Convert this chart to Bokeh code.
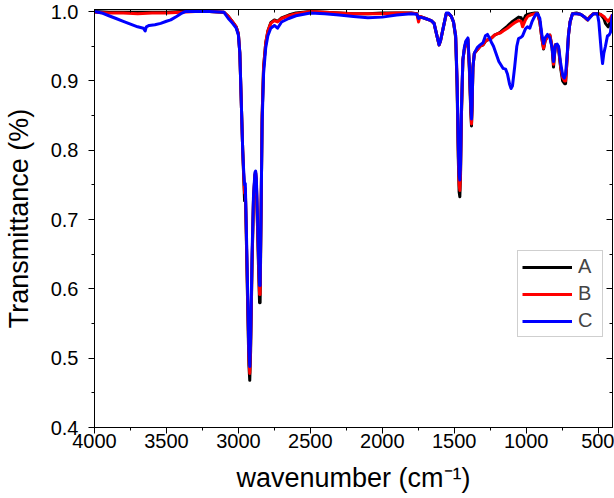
from bokeh.plotting import figure
from bokeh.models import (Range1d, LinearAxis, FixedTicker, Legend, LegendItem,
                          CustomJSTickFormatter, CustomLabelingPolicy)
from bokeh.embed import file_html
from bokeh.resources import INLINE

# ---------------- data ----------------
wn_ab = [4000, 3900, 3800, 3700, 3600, 3500, 3400, 3300, 3200, 3100, 3070, 3040, 3015, 3000,
         2990, 2980, 2970, 2962, 2957, 2954, 2950, 2945, 2935, 2927, 2921, 2915, 2905, 2895,
         2885, 2880, 2875, 2868, 2860, 2853, 2849, 2843, 2835, 2825, 2810, 2795, 2775, 2750,
         2728, 2700, 2650, 2600, 2500, 2400, 2300, 2200, 2100, 2000, 1900, 1800, 1760, 1748,
         1738, 1700, 1660, 1640, 1620, 1605, 1595, 1575, 1555, 1540, 1520, 1505, 1490, 1480,
         1472, 1466, 1461, 1456, 1450, 1440, 1430, 1420, 1405, 1395, 1385, 1380, 1376, 1370,
         1360, 1340, 1320, 1300, 1280, 1260, 1240, 1220, 1200, 1180, 1160, 1130, 1100, 1080,
         1053, 1035, 1025, 1015, 1005, 990, 970, 940, 921, 905, 890, 879, 868, 852, 835, 820,
         810, 800, 796, 785, 775, 760, 747, 733, 726, 716, 706, 695, 678, 650, 622, 600, 574,
         555, 532, 500, 483, 460, 449, 430, 415, 400]

t_b = [0.999, 0.998, 0.998, 0.997, 0.998, 0.998, 0.999, 1.000, 1.000, 0.999, 0.993, 0.985, 0.978, 0.968,
       0.940, 0.870, 0.800, 0.760, 0.738, 0.745, 0.730, 0.680, 0.580, 0.500, 0.478, 0.520, 0.640, 0.730,
       0.765, 0.768, 0.755, 0.700, 0.640, 0.592, 0.592, 0.700, 0.850, 0.920, 0.955, 0.972, 0.983, 0.987,
       0.985, 0.990, 0.994, 0.997, 1.000, 0.999, 0.998, 0.997, 0.997, 0.997, 0.998, 0.998, 0.997, 0.985,
       0.993, 0.990, 0.987, 0.983, 0.965, 0.952, 0.958, 0.978, 0.997, 0.997, 0.993, 0.985, 0.965, 0.900,
       0.800, 0.750, 0.742, 0.770, 0.850, 0.930, 0.945, 0.955, 0.960, 0.920, 0.860, 0.838, 0.860, 0.920,
       0.940, 0.945, 0.950, 0.952, 0.958, 0.960, 0.962, 0.966, 0.968, 0.969, 0.972, 0.976, 0.981, 0.984,
       0.987, 0.986, 0.978, 0.983, 0.988, 0.993, 0.995, 0.997, 0.997, 0.985, 0.960, 0.947, 0.958, 0.964,
       0.966, 0.950, 0.924, 0.945, 0.952, 0.952, 0.948, 0.920, 0.905, 0.900, 0.900, 0.930, 0.966, 0.985,
       0.997, 0.997, 0.996, 0.993, 0.988, 0.993, 0.997, 0.997, 0.996, 0.993, 0.990, 0.986, 0.990, 0.996]

t_a = [1.000, 0.999, 0.999, 0.999, 0.999, 0.999, 1.000, 1.000, 1.000, 0.999, 0.993, 0.985, 0.978, 0.968,
       0.940, 0.870, 0.800, 0.755, 0.727, 0.745, 0.725, 0.675, 0.570, 0.490, 0.468, 0.510, 0.635, 0.728,
       0.764, 0.767, 0.752, 0.695, 0.630, 0.580, 0.580, 0.695, 0.850, 0.920, 0.955, 0.972, 0.984, 0.988,
       0.986, 0.991, 0.995, 0.998, 1.000, 0.999, 0.998, 0.997, 0.997, 0.998, 0.998, 0.998, 0.997, 0.990,
       0.993, 0.990, 0.987, 0.983, 0.965, 0.952, 0.958, 0.978, 0.997, 0.997, 0.993, 0.985, 0.962, 0.890,
       0.790, 0.740, 0.733, 0.765, 0.850, 0.930, 0.945, 0.955, 0.960, 0.918, 0.855, 0.835, 0.858, 0.920,
       0.940, 0.945, 0.950, 0.952, 0.958, 0.960, 0.962, 0.966, 0.968, 0.970, 0.974, 0.979, 0.985, 0.988,
       0.992, 0.991, 0.985, 0.989, 0.994, 0.996, 0.997, 0.998, 0.998, 0.985, 0.960, 0.946, 0.958, 0.964,
       0.966, 0.948, 0.920, 0.945, 0.952, 0.952, 0.947, 0.918, 0.900, 0.896, 0.896, 0.930, 0.966, 0.985,
       0.997, 0.998, 0.996, 0.993, 0.988, 0.993, 0.997, 0.997, 0.996, 0.990, 0.983, 0.978, 0.985, 0.994]

wn_c = [4000, 3950, 3900, 3850, 3800, 3750, 3700, 3660, 3648, 3640, 3620, 3580, 3540, 3500, 3470,
        3430, 3400, 3370, 3300, 3200, 3100, 3070, 3040, 3015, 3000, 2990, 2980, 2970, 2962, 2957,
        2952, 2945, 2935, 2927, 2921, 2915, 2905, 2895, 2885, 2880, 2875, 2868, 2860, 2853, 2849,
        2843, 2835, 2825, 2810, 2795, 2775, 2750, 2728, 2700, 2650, 2600, 2500, 2400, 2300, 2200,
        2100, 2000, 1900, 1800, 1760, 1748, 1738, 1700, 1660, 1640, 1620, 1605, 1595, 1575, 1555,
        1540, 1520, 1505, 1490, 1480, 1472, 1466, 1461, 1456, 1450, 1440, 1430, 1420, 1405, 1395,
        1385, 1380, 1376, 1370, 1360, 1340, 1320, 1300, 1283, 1269, 1255, 1240, 1227, 1210, 1190,
        1178, 1160, 1143, 1130, 1115, 1105, 1095, 1080, 1065, 1053, 1035, 1025, 1005, 991, 975,
        960, 949, 930, 921, 905, 890, 879, 868, 852, 835, 820, 810, 800, 796, 785, 775, 760, 745,
        735, 726, 716, 706, 695, 678, 650, 622, 600, 570, 550, 532, 505, 495, 485, 477, 469, 460,
        449, 435, 425, 414, 405, 400]

t_c = [1.000, 0.998, 0.994, 0.990, 0.986, 0.982, 0.978, 0.976, 0.972, 0.978, 0.980, 0.981, 0.983, 0.986, 0.988,
       0.993, 0.997, 1.000, 1.000, 1.000, 0.999, 0.990, 0.983, 0.976, 0.966, 0.940, 0.870, 0.800, 0.765, 0.750,
       0.752, 0.690, 0.590, 0.510, 0.488, 0.530, 0.650, 0.735, 0.768, 0.770, 0.758, 0.710, 0.650, 0.605, 0.605,
       0.700, 0.840, 0.910, 0.948, 0.965, 0.976, 0.980, 0.976, 0.985, 0.990, 0.994, 0.998, 0.997, 0.995, 0.993,
       0.991, 0.992, 0.995, 0.997, 0.996, 0.990, 0.992, 0.990, 0.987, 0.983, 0.965, 0.952, 0.958, 0.978, 0.998,
       0.998, 0.993, 0.985, 0.965, 0.900, 0.810, 0.765, 0.757, 0.780, 0.860, 0.930, 0.948, 0.957, 0.962, 0.925,
       0.865, 0.845, 0.865, 0.920, 0.940, 0.948, 0.952, 0.955, 0.965, 0.967, 0.962, 0.955, 0.950, 0.940, 0.928,
       0.924, 0.918, 0.917, 0.910, 0.895, 0.889, 0.893, 0.920, 0.950, 0.961, 0.963, 0.965, 0.975, 0.978, 0.976,
       0.985, 0.990, 0.997, 0.997, 0.990, 0.965, 0.954, 0.962, 0.967, 0.962, 0.948, 0.928, 0.945, 0.952, 0.953,
       0.950, 0.925, 0.907, 0.904, 0.910, 0.935, 0.966, 0.985, 0.997, 0.997, 0.996, 0.993, 0.988, 0.993, 0.997,
       0.997, 0.985, 0.960, 0.940, 0.925, 0.940, 0.950, 0.965, 0.966, 0.970, 0.990, 0.996]

series_names = ["A", "B", "C"]
series_colors = ["#000000", "#ff0000", "#0000ff"]
x_ticks = [4000, 3500, 3000, 2500, 2000, 1500, 1000, 500]
y_ticks = [0.4, 0.5, 0.6, 0.7, 0.8, 0.9, 1.0]

FONT = "Liberation Sans"

p = figure(width=614, height=498, output_backend="svg", toolbar_location=None,
           x_range=Range1d(4000, 400), y_range=Range1d(0.4, 1.003),
           min_border_left=94, min_border_right=2, min_border_top=9, min_border_bottom=71)
p.grid.visible = False
p.outline_line_color = "black"
p.outline_line_width = 1
p.background_fill_color = "white"
p.border_fill_color = "white"

xt = FixedTicker(ticks=x_ticks, minor_ticks=[4000 - 250 * i for i in range(15)])
yt = FixedTicker(ticks=y_ticks, minor_ticks=[0.4 + 0.05 * i for i in range(13)])

xa = p.xaxis[0]
xa.ticker = xt
ya = p.yaxis[0]
ya.ticker = yt
ya.formatter = CustomJSTickFormatter(code="return tick.toFixed(1);")

for ax in (xa, ya):
    ax.axis_line_color = "black"
    ax.major_tick_line_color = "black"
    ax.minor_tick_line_color = "black"
    ax.major_tick_out = 6
    ax.major_tick_in = 0
    ax.minor_tick_out = 3
    ax.minor_tick_in = 0
    ax.major_label_text_font = FONT
    ax.major_label_text_font_size = "20px"
    ax.major_label_text_color = "black"
    ax.axis_label_text_font = FONT
    ax.axis_label_text_font_size = "27px"
    ax.axis_label_text_font_style = "normal"
    ax.axis_label_text_color = "black"

xa.axis_label = "wavenumber (cm⁻¹)"
ya.axis_label = "Transmittance (%)"
xa.major_label_standoff = 0
xa.axis_label_standoff = 12
ya.major_label_standoff = 10
ya.axis_label_standoff = 14

no_labels = CustomLabelingPolicy(code="""
try { for (const i of Array.from(indices)) indices.unset(i); } catch (e) {}
return indices;
""")
blank = CustomJSTickFormatter(code="return '';")

top = LinearAxis(ticker=xt, formatter=blank, major_label_policy=no_labels,
                 major_label_text_font_size="1px", major_label_standoff=0,
                 major_tick_in=6, major_tick_out=0, minor_tick_in=3, minor_tick_out=0,
                 axis_line_color="black", major_tick_line_color="black", minor_tick_line_color="black")
right = LinearAxis(ticker=yt, formatter=blank, major_label_policy=no_labels,
                   major_label_text_font_size="1px", major_label_standoff=0,
                   major_tick_in=6, major_tick_out=0, minor_tick_in=3, minor_tick_out=0,
                   axis_line_color="black", major_tick_line_color="black", minor_tick_line_color="black")
p.add_layout(top, "above")
p.add_layout(right, "right")

xs = [wn_ab, wn_ab, wn_c]
ys = [t_a, t_b, t_c]
renderers = []
for xv, yv, c in zip(xs, ys, series_colors):
    r = p.line(xv, yv, line_color=c, line_width=3, line_join="round")
    renderers.append(r)

legend = Legend(items=[LegendItem(label=n, renderers=[r]) for n, r in zip(series_names, renderers)],
                location=(423, 90), glyph_width=50, glyph_height=22, label_height=22,
                label_text_font=FONT, label_text_font_size="20px", label_standoff=6,
                spacing=4, padding=4, margin=0,
                border_line_color="#a0a0a0", border_line_width=1,
                background_fill_color="white", background_fill_alpha=1)
p.add_layout(legend, "center")

open("out.html", "w").write(file_html(p, INLINE))
